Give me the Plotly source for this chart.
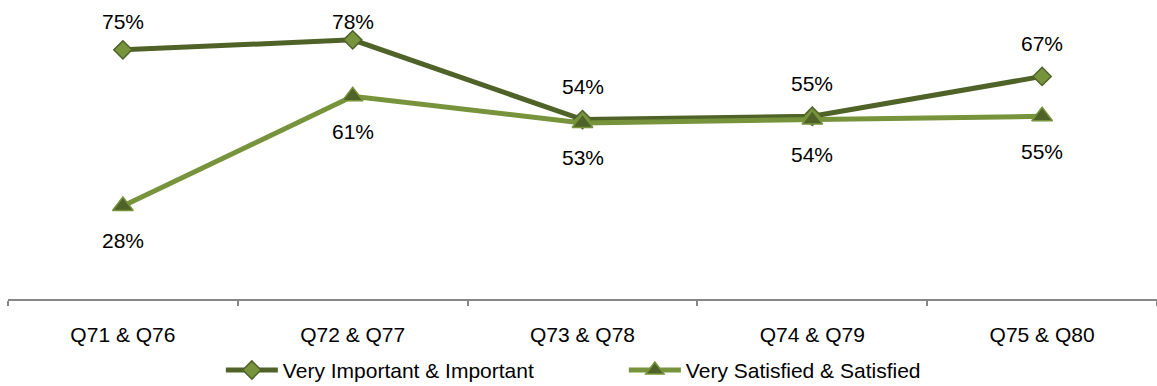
import plotly.graph_objects as go

categories = ["Q71 & Q76", "Q72 & Q77", "Q73 & Q78", "Q74 & Q79", "Q75 & Q80"]
important = [75, 78, 54, 55, 67]
satisfied = [28, 61, 53, 54, 55]
series_names = ["Very Important & Important", "Very Satisfied & Satisfied"]

DARK = "#4F6228"
LIGHT = "#77933C"
FONT = "Liberation Sans, Arial, sans-serif"

fig = go.Figure()
fig.add_trace(go.Scatter(
    x=categories, y=important, name=series_names[0], mode="lines+markers",
    line=dict(color=DARK, width=5),
    marker=dict(symbol="diamond", size=14, color=LIGHT, line=dict(color=DARK, width=1.5)),
    cliponaxis=False,
))
fig.add_trace(go.Scatter(
    x=categories, y=satisfied, name=series_names[1], mode="lines+markers",
    line=dict(color=LIGHT, width=5),
    marker=dict(symbol="triangle-up", size=18, color=DARK, line=dict(color=LIGHT, width=1.5)),
    cliponaxis=False,
))

annotations = []
for c, v in zip(categories, important):
    annotations.append(dict(x=c, y=min(v + 10, 83.5), text=f"{v}%", showarrow=False,
                            font=dict(family=FONT, size=21, color="#000000")))
for c, v in zip(categories, satisfied):
    annotations.append(dict(x=c, y=v, yshift=-35, text=f"{v}%", showarrow=False,
                            font=dict(family=FONT, size=21, color="#000000")))

fig.update_layout(
    width=1157, height=386,
    margin=dict(l=8, r=0, t=0, b=87, autoexpand=False),
    paper_bgcolor="white", plot_bgcolor="white",
    font=dict(family=FONT, size=21, color="#000000"),
    showlegend=True,
    legend=dict(orientation="h", x=0.536, xanchor="center", y=-0.17, yanchor="top",
                font=dict(family=FONT, size=21, color="#000000"),
                entrywidth=336, itemwidth=52),
    annotations=annotations,
    xaxis=dict(
        type="category", range=[-0.5, 4.5], showgrid=False, zeroline=False,
        showline=True, linecolor="#868686", linewidth=2,
        ticks="outside", tickson="boundaries", ticklen=5, tickcolor="#868686", tickwidth=1.5,
        tickfont=dict(family=FONT, size=21, color="#000000"),
        ticklabelstandoff=16,
    ),
    yaxis=dict(range=[0, 90], visible=False, showgrid=False, zeroline=False),
)

fig.write_html("out.html")
